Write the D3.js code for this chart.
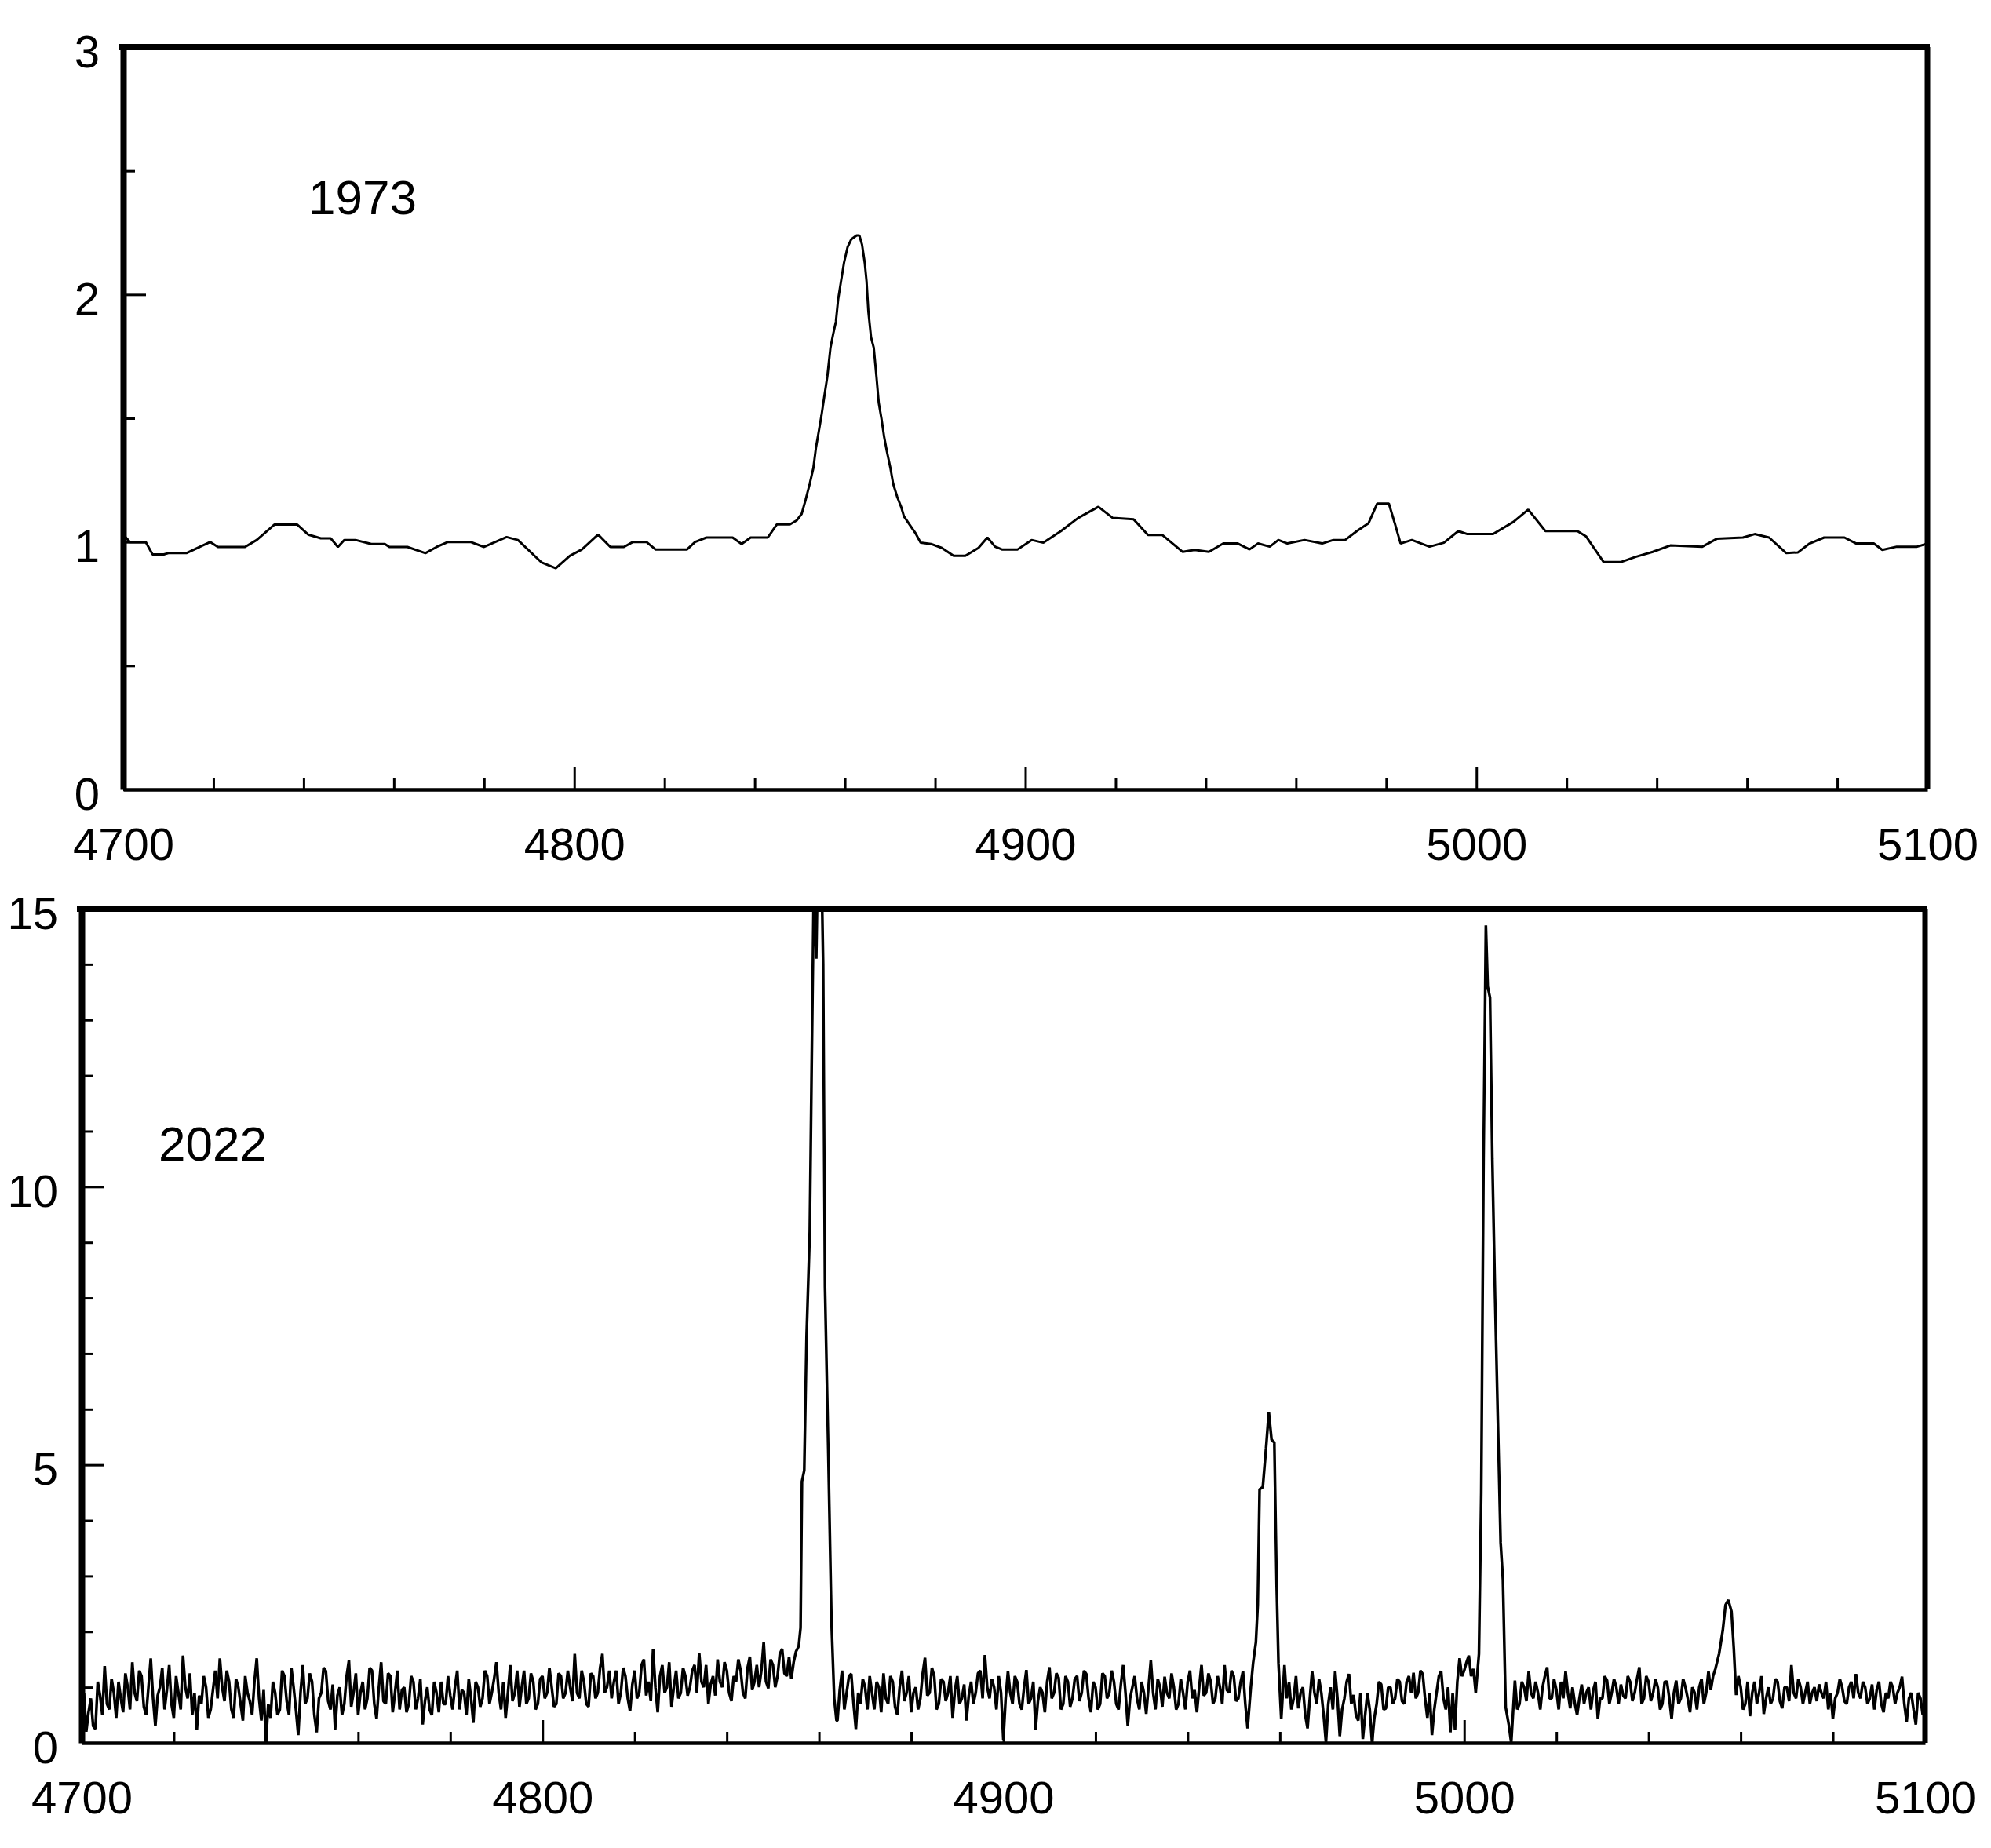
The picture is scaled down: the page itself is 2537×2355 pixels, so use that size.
<!DOCTYPE html>
<html><head><meta charset="utf-8">
<script src="https://cdn.jsdelivr.net/npm/d3@7"></script>
<style>
html,body{margin:0;padding:0;background:#fff;}
svg{display:block;}
text{font-family:"Liberation Sans", Arial, sans-serif;fill:#000;}
</style></head><body>
<svg id="chart" width="2537" height="2355"></svg>
<script>
// ---- 1973 spectrum (wavelength in Angstrom, relative flux) ----
const wave1973 = [4700,4701.5,4705,4706.5,4709,4710,4714,4719.3,4721,4727,4729.6,4733.5,4738.6,4741,4743.8,4746,4747.6,4749,4751.5,4755,4758,4759,4763,4767,4769.5,4772,4777,4780,4785,4787.5,4792.7,4795.9,4799,4801.7,4805.3,4808,4811,4813,4816,4818,4825,4826.8,4829.3,4835.1,4837.1,4839.1,4842.9,4844.9,4847.8,4849.3,4850.4,4851.3,4852.2,4853,4853.6,4854.2,4854.8,4855.4,4856.1,4856.8,4857.4,4858,4858.5,4859.1,4859.8,4860.6,4861.4,4862.6,4863.2,4863.8,4864.4,4864.8,4865.2,4865.8,4866.4,4867,4867.5,4868.1,4868.7,4869.3,4870.1,4870.7,4871.6,4872.5,4873.1,4874.5,4875.7,4876.8,4879.1,4881.5,4884.1,4886.7,4889.6,4891.6,4893.3,4894.8,4898.3,4901.4,4904,4907.9,4911.7,4916.2,4919.4,4924,4927.2,4930.4,4934.9,4937.5,4940.7,4943.9,4947.1,4949.7,4951.6,4954.2,4956.1,4958.1,4961.9,4965.8,4968.3,4970.9,4973.5,4976.1,4978,4980.6,4981.9,4983.2,4985.7,4989.6,4992.8,4996,4998,5003.7,5008.2,5011.5,5015.3,5022.4,5024.3,5028.2,5032.1,5035.3,5039.1,5043,5050.1,5053.3,5059.1,5061.7,5064.9,5068.7,5071.3,5073.9,5077.1,5081.6,5084.2,5088.1,5090,5093.2,5097.7,5100];
const flux1973 = [1.03,1.0,1.0,0.95,0.95,0.955,0.955,1.0,0.98,0.98,1.008,1.07,1.07,1.03,1.015,1.015,0.98,1.008,1.008,0.992,0.992,0.98,0.98,0.955,0.98,1.0,1.0,0.98,1.02,1.008,0.918,0.894,0.944,0.97,1.03,0.98,0.98,1.0,1.0,0.97,0.97,1.0,1.018,1.018,0.992,1.018,1.018,1.071,1.071,1.087,1.113,1.171,1.235,1.298,1.383,1.446,1.51,1.584,1.668,1.785,1.84,1.89,1.98,2.049,2.128,2.192,2.223,2.239,2.239,2.202,2.128,2.054,1.932,1.827,1.785,1.668,1.563,1.499,1.425,1.367,1.298,1.235,1.182,1.14,1.103,1.066,1.034,0.997,0.992,0.976,0.944,0.944,0.976,1.018,0.981,0.97,0.97,1.008,0.997,1.044,1.097,1.142,1.097,1.092,1.028,1.028,0.96,0.968,0.96,0.994,0.994,0.97,0.994,0.981,1.008,0.994,1.008,0.994,1.008,1.008,1.044,1.076,1.155,1.155,1.076,0.994,1.008,0.981,0.997,1.044,1.032,1.032,1.081,1.131,1.044,1.044,1.023,0.919,0.919,0.94,0.96,0.986,0.981,1.013,1.018,1.032,1.018,0.955,0.958,0.994,1.018,1.018,0.994,0.994,0.968,0.981,0.981,0.994];

// ---- 2022 spectrum: continuum stretches sampled every 0.5 A (start wavelength + fluxes) ----
const sampleStep2022 = 0.5;
const contA_start = 4700;
const contA = [0.35,0.9,0.2,0.55,0.8,0.3,0.25,1.1,0.85,0.5, 1.38,0.7,0.6,1.15,0.9,0.45,1.1,0.8,0.55,1.25, 1.0,0.6,1.45,0.9,0.75,1.3,1.2,0.65,0.5,1.0, 1.52,0.8,0.3,0.85,1.0,1.35,0.6,0.95,1.4,0.7, 0.45,1.2,0.9,0.6,1.57,1.0,0.8,1.25,0.5,0.9, 0.24,0.85,0.7,1.2,1.0,0.45,0.6,0.95,1.3,0.8, 1.52,1.0,0.75,1.3,1.1,0.6,0.45,1.15,1.0,0.7, 0.4,1.2,0.9,0.75,0.5,1.1,1.52,0.8,0.4,0.95, 0.0,0.7,0.45,1.1,0.9,0.5,0.6,1.3,1.2,0.75, 0.5,1.35,1.0,0.6,0.14,0.9,1.4,0.7,0.8,1.25, 1.1,0.5,0.19,0.8,0.9,1.35,1.29,0.75,0.6,1.05, 0.24,0.85,1.0,0.5,0.7,1.2,1.48,0.65,0.9,1.25, 0.5,0.9,1.1,0.6,0.8,1.35,1.3,0.7,0.43,1.0, 1.45,0.75,0.7,1.25,1.2,0.55,0.9,1.3,0.6,0.95, 1.0,0.55,0.7,1.2,1.1,0.6,0.8,1.15,0.33,0.75, 1.0,0.6,0.5,1.1,0.9,0.55,1.1,0.7,0.7,1.2, 0.85,0.6,1.0,1.3,0.6,0.95,0.9,0.5,1.15,0.8, 0.36,1.1,1.0,0.65,0.8,1.3,1.2,0.7,0.9,1.15, 1.45,0.9,0.6,1.1,0.45,0.9,1.4,0.75,0.9,1.3, 0.65,1.0,1.3,0.7,0.8,1.25,1.1,0.6,0.7,1.15, 1.2,0.8,0.9,1.35,1.0,0.65,0.7,1.25,1.2,0.8, 0.9,1.3,1.0,0.75,1.6,0.9,0.8,1.3,1.1,0.7, 0.65,1.25,1.2,0.8,0.9,1.35,1.6,0.9,1.0,1.3, 0.8,1.1,1.3,0.7,0.9,1.35,1.2,0.8,0.57,1.05, 1.3,0.8,0.9,1.4,1.5,0.85,1.1,0.75,1.69,1.0, 0.55,1.2,1.4,0.9,1.0,1.45,0.65,1.0,1.3,0.8, 0.9,1.35,1.2,0.85,1.0,1.3,1.4,0.9,1.62,1.1, 1.0,1.4,0.7,1.05,1.2,0.85,1.5,1.1,1.0,1.45, 1.3,0.9,0.75,1.2,1.1,1.5,1.3,0.9,0.8,1.35, 1.55,0.95,1.1,1.4,1.0,1.3,1.81,1.1,0.98,1.5, 1.4,1.0,1.2,1.6,1.69,1.25,1.2,1.55,1.15,1.45, 1.64];
const contC_start = 4864;
const contC = [0.4,0.95,1.3,0.6,0.9,1.2,1.24,0.7,0.25,0.9, 0.7,1.15,1.0,0.6,1.2,0.9,0.6,1.1,1.0,0.55, 1.25,0.8,0.7,1.2,1.1,0.65,0.5,1.0,1.3,0.75, 0.9,1.2,0.55,0.9,1.0,0.6,0.8,1.25,1.53,0.85, 0.9,1.35,1.2,0.6,0.7,1.15,1.1,0.75,0.9,1.2, 0.45,0.95,1.2,0.7,0.8,1.05,0.4,0.85,1.1,0.7, 0.9,1.25,1.3,0.8,1.58,1.0,0.8,1.15,1.0,0.6, 1.2,0.9,0.05,0.8,1.29,0.9,0.7,1.2,1.1,0.7, 0.6,1.0,1.31,0.7,0.8,1.1,0.24,0.75,1.0,0.9, 0.55,1.1,1.36,0.8,0.9,1.25,1.17,0.6,0.7,1.2, 1.1,0.65,0.8,1.15,1.2,0.75,0.9,1.3,1.24,0.8, 0.55,1.1,1.0,0.6,0.7,1.25,1.2,0.8,0.9,1.3, 1.1,0.7,0.6,1.05,1.4,0.9,0.31,0.8,1.0,1.2, 0.8,0.6,1.1,0.9,0.52,1.0,1.48,0.9,0.6,1.15, 1.0,0.65,1.19,0.9,0.8,1.25,1.0,0.6,0.7,1.15, 0.9,0.6,1.1,1.3,0.8,0.95,0.55,1.0,1.4,0.85, 0.9,1.25,1.1,0.7,0.8,1.2,1.0,0.7,1.4,0.95, 0.9,1.3,1.2,0.75,0.8,1.1,1.29,0.7,0.26];
const contE_start = 4961;
const contE = [1.4,0.8,1.09,0.6,0.8,1.2,0.62,0.9,1.0,0.5, 0.26,0.8,1.29,0.9,0.7,1.15,0.9,0.5,0.0,0.7, 1.0,0.6,1.29,0.8,0.12,0.6,0.8,1.1,1.24,0.7, 0.86,0.5,0.4,0.9,0.07,0.5,0.9,0.6,0.0,0.45, 0.7,1.1,1.05,0.6,0.62,1.0,1.0,0.7,0.8,1.15, 1.1,0.75,0.7,1.1,1.2,0.9,1.26,0.8,0.9,1.3, 1.24,0.8,0.45,0.9,0.14,0.6,0.9,1.2,1.29,0.8, 0.6,1.0,0.19,0.9,0.24,1.1,1.52,1.2,1.3,1.45, 1.57,1.2,1.33,0.9];
const contG_start = 5011;
const contG = [1.12,0.6,0.7,1.1,1.0,0.75,1.29,0.9,0.8,1.1, 0.9,0.6,1.0,1.2,1.36,0.8,0.8,1.15,0.95,0.6, 1.1,0.8,1.29,0.9,0.62,1.0,0.71,0.5,0.8,1.05, 0.7,0.9,1.0,0.6,0.95,1.1,0.43,0.8,0.8,1.2, 1.12,0.7,0.9,1.15,1.0,0.7,1.05,0.85,0.8,1.2, 1.1,0.75,0.9,1.15,1.36,0.7,0.8,1.2,1.1,0.75, 0.9,1.15,1.0,0.6,0.7,1.1,1.1,0.8,0.43,0.9, 1.12,0.7,0.8,1.15,1.0,0.8,0.55,1.0,0.9,0.6, 1.0,1.15,0.7,0.9,1.29,0.95,1.2];
const contI_start = 5059;
const contI = [0.86,1.2,1.0,0.6,0.7,1.1,0.48,0.9,1.1,0.7, 0.9,1.2,0.52,0.8,1.0,0.7,0.8,1.15,1.1,0.75, 0.62,1.0,1.0,0.75,1.4,0.9,0.8,1.15,1.0,0.7, 0.9,1.1,0.7,0.9,1.0,0.75,1.05,0.9,0.8,1.1, 0.6,0.9,0.43,0.8,0.9,1.15,1.0,0.75,0.7,1.0, 1.1,0.8,1.24,0.9,0.8,1.1,1.0,0.7,0.8,1.05, 0.6,0.95,1.1,0.7,0.55,0.9,0.8,1.1,1.0,0.7, 0.9,1.0,1.19,0.7,0.38,0.8,0.9,0.6,0.33,0.9, 0.8,0.5,0.9];

// ---- 2022 emission lines (explicit wavelength / flux) ----
const hbetaWave = [4855.6,4856.0,4856.3,4856.8,4857.3,4858.0,4858.4,4858.9,4859.4,4859.8,4860.5,4860.9,4861.3,4862.0,4862.7,4863.3,4863.8];
const hbetaFlux = [1.74,2.07,4.7,4.9,7.3,9.2,12.1,15.6,14.1,16.2,16.0,14.0,8.2,5.3,2.2,0.8,0.4];
const o4959Wave = [4953.7,4954.2,4954.8,4955.2,4955.6,4956.3,4957.0,4957.6,4958.2,4958.8,4959.3,4959.7,4960.3];
const o4959Flux = [1.0,1.44,1.81,2.48,4.56,4.6,5.3,5.95,5.45,5.4,2.83,1.43,0.43];
const o5007Wave = [5003.2,5003.7,5004.2,5004.7,5005.1,5005.6,5006.1,5006.7,5007.3,5007.9,5008.4,5009.0,5009.7,5010.2];
const o5007Flux = [1.6,4.5,10.5,14.7,13.6,13.4,10.5,8.0,5.8,3.6,2.93,0.64,0.31,0.0];
const l5057Wave = [5054.5,5055.3,5056.1,5056.7,5057.3,5058.0,5058.5];
const l5057Flux = [1.33,1.6,2.02,2.48,2.57,2.36,1.69];

// ---- axis tick values and labels ----
const xMajorTicks = [4700,4800,4900,5000,5100];
const xMinorTicks = [4720,4740,4760,4780,4820,4840,4860,4880,4920,4940,4960,4980,5020,5040,5060,5080];
const yMajor1973 = [0,1,2,3];
const yMinor1973 = [0.5,1.5,2.5];
const yMajor2022 = [0,5,10,15];
const yMinor2022 = [1,2,3,4,6,7,8,9,11,12,13,14];
const panelLabels = ["1973","2022"];

// assemble 2022 series in wavelength order
const sampled = (start, arr) => arr.map((f, i) => [start + i * sampleStep2022, f]);
const data2022 = [].concat(
  sampled(contA_start, contA), d3.zip(hbetaWave, hbetaFlux),
  sampled(contC_start, contC), d3.zip(o4959Wave, o4959Flux),
  sampled(contE_start, contE), d3.zip(o5007Wave, o5007Flux),
  sampled(contG_start, contG), d3.zip(l5057Wave, l5057Flux),
  sampled(contI_start, contI)
);
const data1973 = d3.zip(wave1973, flux1973);

const svg = d3.select("#chart");
svg.append("rect").attr("width",2537).attr("height",2355).attr("fill","#fff");

const FONT = 58;
const panels = [
  {data: data1973, yDom:[0,3], yMajor:yMajor1973, yMinor:yMinor1973, sw:3,
   left:157, right:2456, top:60, bottom:1006, label:panelLabels[0], lx:393, ly:273},
  {data: data2022, yDom:[0,15], yMajor:yMajor2022, yMinor:yMinor2022, sw:3.5,
   left:104, right:2453, top:1158, bottom:2221, label:panelLabels[1], lx:202, ly:1479}
];

panels.forEach((p, i) => {
  const x = d3.scaleLinear().domain([4700,5100]).range([p.left, p.right]);
  const y = d3.scaleLinear().domain(p.yDom).range([p.bottom, p.top]);
  const g = svg.append("g");

  const clipId = "clip" + i;
  g.append("clipPath").attr("id", clipId).append("rect")
    .attr("x", x.range()[0]).attr("y", y.range()[1])
    .attr("width", x.range()[1]-x.range()[0]).attr("height", y.range()[0]-y.range()[1]);

  const line = d3.line().x(d => x(d[0])).y(d => y(d[1]));
  g.append("path")
    .datum(p.data)
    .attr("clip-path", `url(#${clipId})`)
    .attr("fill","none").attr("stroke","#000")
    .attr("stroke-width", p.sw).attr("stroke-linejoin","bevel")
    .attr("d", line);

  // minor ticks (inward)
  g.append("g").attr("transform", `translate(0,${p.bottom})`)
    .call(d3.axisBottom(x).tickValues(xMinorTicks).tickSize(-14).tickSizeOuter(0).tickFormat(""))
    .call(a => a.select(".domain").remove())
    .call(a => a.selectAll("line").attr("stroke-width",3));
  g.append("g").attr("transform", `translate(${p.left},0)`)
    .call(d3.axisLeft(y).tickValues(p.yMinor).tickSize(-15).tickSizeOuter(0).tickFormat(""))
    .call(a => a.select(".domain").remove())
    .call(a => a.selectAll("line").attr("stroke-width",3));

  // major bottom axis
  g.append("g").attr("transform", `translate(0,${p.bottom})`)
    .call(d3.axisBottom(x).tickValues(xMajorTicks).tickSize(-29).tickSizeOuter(0).tickFormat(d3.format("d")))
    .call(a => a.select(".domain").attr("stroke-width",4.5))
    .call(a => a.selectAll("line").attr("stroke-width",3))
    .call(a => a.selectAll("text").attr("y",90).attr("dy",null)
      .attr("font-size",FONT).attr("font-family","Liberation Sans, Arial, sans-serif"));

  // major left axis
  g.append("g").attr("transform", `translate(${p.left},0)`)
    .call(d3.axisLeft(y).tickValues(p.yMajor).tickSize(-29).tickSizeOuter(0).tickPadding(30).tickFormat(d3.format("d")))
    .call(a => a.select(".domain").attr("stroke-width",8))
    .call(a => a.selectAll("line").attr("stroke-width",3))
    .call(a => a.selectAll("text").attr("y",25).attr("dy",null)
      .attr("font-size",FONT).attr("font-family","Liberation Sans, Arial, sans-serif"));

  // frame: top and right edges
  g.append("line").attr("x1", x.range()[0]-6).attr("x2", x.range()[1]+3)
    .attr("y1", y.range()[1]).attr("y2", y.range()[1])
    .attr("stroke","#000").attr("stroke-width",8);
  g.append("line").attr("x1", x.range()[1]).attr("x2", x.range()[1])
    .attr("y1", y.range()[1]).attr("y2", y.range()[0])
    .attr("stroke","#000").attr("stroke-width",7);

  g.append("text").attr("x", p.lx).attr("y", p.ly)
    .attr("font-size",62).text(p.label);
});
</script>
</body></html>
